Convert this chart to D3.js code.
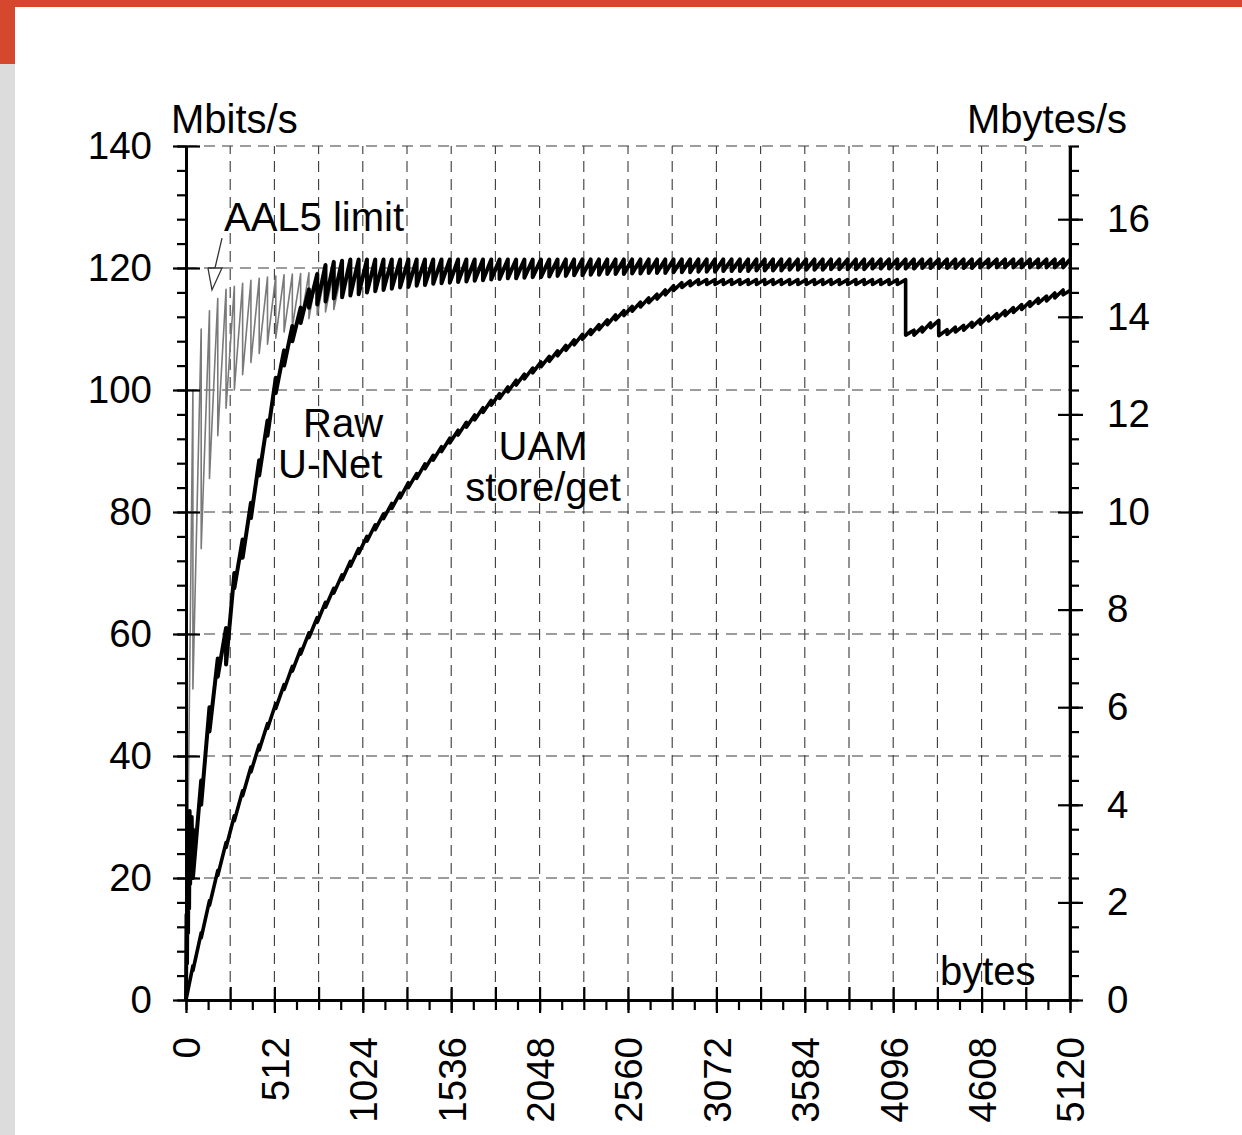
<!DOCTYPE html>
<html>
<head>
<meta charset="utf-8">
<script src="https://cdn.jsdelivr.net/npm/d3@7"></script>
<style>
  html, body { margin: 0; padding: 0; background: #fff; }
  svg { display: block; }
  text { font-family: "Liberation Sans", Arial, Helvetica, sans-serif; fill: #000; }
</style>
</head>
<body>
<svg id="chart" width="1242" height="1135"></svg>
<script>
// ---- message sizes (bytes) at which one more ATM cell is needed ----
const cellEdges = [
  0, 40, 88, 136, 184, 232, 280, 328, 376, 424,
  472, 520, 568, 616, 664, 712, 760, 808, 856, 904,
  952, 1000, 1048, 1096, 1144, 1192, 1240, 1288, 1336, 1384,
  1432, 1480, 1528, 1576, 1624, 1672, 1720, 1768, 1816, 1864,
  1912, 1960, 2008, 2056, 2104, 2152, 2200, 2248, 2296, 2344,
  2392, 2440, 2488, 2536, 2584, 2632, 2680, 2728, 2776, 2824,
  2872, 2920, 2968, 3016, 3064, 3112, 3160, 3208, 3256, 3304,
  3352, 3400, 3448, 3496, 3544, 3592, 3640, 3688, 3736, 3784,
  3832, 3880, 3928, 3976, 4024, 4072, 4120, 4168, 4216, 4264,
  4312, 4360, 4408, 4456, 4504, 4552, 4600, 4648, 4696, 4744,
  4792, 4840, 4888, 4936, 4984, 5032, 5080, 5120
];

// ---- Raw U-Net bandwidth (Mbits/s): first few bytes, then just before / just after each cell edge ----
const rawHeadBytes = [0, 3, 6, 9, 12, 15, 18, 21, 24, 27, 30, 33, 36];
const rawHeadMbps  = [0, 14, 6, 25, 11, 30, 15, 31, 19, 29, 22, 30, 24];
const rawBefore = [
  0, 28, 36, 48, 56, 61, 70, 75.5, 81.5, 88.5,
  95, 102, 106.5, 110.5, 113.5, 116.5, 119, 120.5, 121, 121.2,
  121.4, 121.4, 121.4, 121.4, 121.4, 121.4, 121.4, 121.4, 121.4, 121.4,
  121.4, 121.4, 121.4, 121.4, 121.4, 121.4, 121.4, 121.4, 121.4, 121.4,
  121.4, 121.4, 121.4, 121.4, 121.4, 121.4, 121.4, 121.4, 121.4, 121.4,
  121.4, 121.4, 121.4, 121.4, 121.4, 121.4, 121.4, 121.4, 121.4, 121.4,
  121.4, 121.4, 121.4, 121.4, 121.4, 121.4, 121.4, 121.4, 121.4, 121.4,
  121.4, 121.4, 121.4, 121.4, 121.4, 121.4, 121.4, 121.4, 121.4, 121.4,
  121.4, 121.4, 121.4, 121.4, 121.4, 121.4, 121.4, 121.4, 121.4, 121.4,
  121.4, 121.4, 121.4, 121.4, 121.4, 121.4, 121.4, 121.4, 121.4, 121.4,
  121.4, 121.4, 121.4, 121.4, 121.4, 121.4, 121.4, 121.4
];
const rawAfter = [
  0, 20, 32, 44, 53, 55, 67.5, 72.5, 79, 86,
  92.5, 99.5, 104, 108, 111, 113.5, 114, 114.5, 115, 115.2,
  115.5, 115.7, 116.0, 116.2, 116.4, 116.6, 116.8, 116.9, 117.1, 117.2,
  117.4, 117.5, 117.6, 117.7, 117.8, 117.9, 118.0, 118.1, 118.2, 118.3,
  118.3, 118.4, 118.5, 118.5, 118.6, 118.7, 118.7, 118.8, 118.8, 118.9,
  118.9, 119.0, 119.0, 119.0, 119.1, 119.1, 119.2, 119.2, 119.2, 119.3,
  119.3, 119.3, 119.4, 119.4, 119.4, 119.5, 119.5, 119.5, 119.5, 119.6,
  119.6, 119.6, 119.6, 119.7, 119.7, 119.7, 119.7, 119.7, 119.8, 119.8,
  119.8, 119.8, 119.8, 119.9, 119.9, 119.9, 119.9, 119.9, 119.9, 120.0,
  120.0, 120.0, 120.0, 120.0, 120.0, 120.0, 120.1, 120.1, 120.1, 120.1,
  120.1, 120.1, 120.1, 120.1, 120.1, 120.1, 120.1, 121.4
];

// ---- UAM store/get bandwidth (Mbits/s) just before / just after each cell edge ----
const uamBefore = [
  0, 5.6, 11.0, 16.3, 21.2, 25.8, 30.2, 34.3, 38.2, 41.8,
  45.3, 48.6, 51.7, 54.7, 57.5, 60.2, 62.7, 65.2, 67.5, 69.7,
  71.9, 74.0, 76.0, 77.9, 79.7, 81.4, 83.1, 84.8, 86.3, 87.9,
  89.3, 90.7, 92.1, 93.4, 94.7, 95.9, 97.1, 98.3, 99.4, 100.5,
  101.6, 102.6, 103.6, 104.6, 105.5, 106.4, 107.3, 108.2, 109.1, 109.9,
  110.7, 111.5, 112.3, 113.0, 113.7, 114.4, 115.1, 115.7, 116.4, 117.1,
  117.6, 117.9, 118.1, 118.1, 118.1, 118.1, 118.1, 118.1, 118.1, 118.1,
  118.1, 118.1, 118.1, 118.1, 118.1, 118.1, 118.1, 118.1, 118.1, 118.1,
  118.1, 118.1, 118.1, 118.1, 118.1, 118.1, 118.1, 118.1, 109.8, 110.3,
  111.0, 111.4, 109.9, 110.3, 110.6, 111.1, 111.6, 112.1, 112.5, 113.0,
  113.5, 114.0, 114.5, 115.0, 115.4, 115.9, 116.4, 116.3
];
const uamAfter = [
  0, 4.8, 10.2, 15.5, 20.4, 25.0, 29.4, 33.5, 37.4, 41.0,
  44.5, 47.8, 50.9, 53.9, 56.7, 59.4, 61.9, 64.4, 66.7, 68.9,
  71.1, 73.2, 75.2, 77.1, 78.9, 80.6, 82.3, 84.0, 85.5, 87.1,
  88.5, 89.9, 91.3, 92.6, 93.9, 95.1, 96.3, 97.5, 98.6, 99.7,
  100.8, 101.8, 102.8, 103.8, 104.7, 105.6, 106.5, 107.4, 108.3, 109.1,
  109.9, 110.7, 111.5, 112.2, 112.9, 113.6, 114.3, 114.9, 115.6, 116.3,
  116.8, 117.1, 117.3, 117.3, 117.3, 117.3, 117.3, 117.3, 117.3, 117.3,
  117.3, 117.3, 117.3, 117.3, 117.3, 117.3, 117.3, 117.3, 117.3, 117.3,
  117.3, 117.3, 117.3, 117.3, 117.3, 117.3, 117.3, 109.0, 109.0, 109.5,
  110.2, 108.9, 109.1, 109.5, 109.8, 110.3, 110.8, 111.3, 111.7, 112.2,
  112.7, 113.2, 113.7, 114.2, 114.6, 115.1, 115.6, 116.3
];

// ---- AAL5 limit (Mbits/s) for the small sizes where it is visible ----
const aal5Before = [0, 100, 110, 113, 115, 116.5, 117, 117.5, 118, 118.3,
  118.5, 118.7, 118.9, 119, 119.1, 119.2, 119.3, 119.4, 119.4, 119.5];
const aal5After = [0, 51, 74, 85.5, 92.5, 97, 100, 102.5, 104.5, 106,
  107.5, 108.5, 109.5, 110.3, 111, 111.7, 112.3, 112.8, 113.2, 113.7];

// ---- axis ticks ----
const byteLabels  = [0, 512, 1024, 1536, 2048, 2560, 3072, 3584, 4096, 4608, 5120];
const mbitLabels  = [0, 20, 40, 60, 80, 100, 120, 140];
const mbyteLabels = [0, 2, 4, 6, 8, 10, 12, 14, 16];

// ---- layout ----
const svg = d3.select("#chart");
const x = d3.scaleLinear().domain([0, 5120]).range([186, 1070]);
const y = d3.scaleLinear().domain([0, 140]).range([1000, 146]);
const yR = d3.scaleLinear().domain([0, 17.5]).range([1000, 146]);

// paper and scanner edge
svg.append("rect").attr("width", 1242).attr("height", 1135).attr("fill", "#fff");
svg.append("rect").attr("x", 0).attr("y", 0).attr("width", 1242).attr("height", 7).attr("fill", "#d5482e");
svg.append("rect").attr("x", 0).attr("y", 7).attr("width", 15).attr("height", 57).attr("fill", "#d5482e");
svg.append("rect").attr("x", 0).attr("y", 64).attr("width", 15).attr("height", 1071).attr("fill", "#dcdcdc");

// dashed grid
const grid = svg.append("g")
  .attr("fill", "none").attr("stroke", "#3a3a3a")
  .attr("stroke-width", 1.1).attr("stroke-dasharray", "11,7");
grid.selectAll("line.v").data(d3.range(256, 5120, 256)).join("line").attr("class", "v")
  .attr("x1", d => x(d)).attr("x2", d => x(d)).attr("y1", y(0)).attr("y2", y(140));
grid.selectAll("line.h").data([20, 40, 60, 80, 100, 120, 140]).join("line").attr("class", "h")
  .attr("x1", x(0)).attr("x2", x(5120)).attr("y1", d => y(d)).attr("y2", d => y(d));

// build the saw-tooth polyline from the arrays
function sawtooth(head, before, after, first, last, endOnBefore) {
  const pts = head.slice();
  for (let i = first; i <= last; i++) {
    pts.push([cellEdges[i], before[i]]);
    if (!(endOnBefore && i === last)) pts.push([cellEdges[i], after[i]]);
  }
  return pts;
}
const line = d3.line().x(d => x(d[0])).y(d => y(d[1]));

const aal5Pts = sawtooth([[0, 0]], aal5Before, aal5After, 1, aal5Before.length - 1, true);
const rawHead = rawHeadBytes.map((b, i) => [b, rawHeadMbps[i]]);
const rawPts = sawtooth(rawHead, rawBefore, rawAfter, 1, cellEdges.length - 1, true);
const uamPts = sawtooth([[0, 0]], uamBefore, uamAfter, 1, cellEdges.length - 1, true);

svg.append("path").attr("d", line(aal5Pts)).attr("fill", "none")
  .attr("stroke", "#7a7a7a").attr("stroke-width", 1.6).attr("stroke-linejoin", "round");
svg.append("path").attr("d", line(uamPts)).attr("fill", "none")
  .attr("stroke", "#000").attr("stroke-width", 3.6).attr("stroke-linejoin", "round");
svg.append("path").attr("d", line(rawPts)).attr("fill", "none")
  .attr("stroke", "#000").attr("stroke-width", 4).attr("stroke-linejoin", "round");

// axes
function styleAxis(g, fontSize) {
  g.attr("font-family", null).attr("font-size", null);
  g.selectAll(".domain").attr("stroke", "#000").attr("stroke-width", 2.6);
  g.selectAll(".tick line").attr("stroke", "#000").attr("stroke-width", 2.2);
  g.selectAll(".tick text").style("font-size", fontSize + "px").attr("fill", "#000");
}
const tickFont = 38.5;

// left: Mbits/s
const left = svg.append("g").attr("transform", `translate(${x(0)},0)`);
left.append("g").call(d3.axisLeft(y).tickValues(d3.range(0, 141, 4)).tickSize(9).tickSizeOuter(0).tickFormat("")).call(styleAxis, tickFont);
left.append("g").call(d3.axisLeft(y).tickValues(mbitLabels).tickSize(-14).tickSizeOuter(0).tickFormat("")).call(styleAxis, tickFont);
left.append("g").call(d3.axisLeft(y).tickValues(mbitLabels).tickSize(13).tickSizeOuter(0).tickPadding(21)).call(styleAxis, tickFont);

// right: Mbytes/s
const right = svg.append("g").attr("transform", `translate(${x(5120)},0)`);
right.append("g").call(d3.axisRight(yR).tickValues(d3.range(0, 17.6, 0.5)).tickSize(9).tickSizeOuter(0).tickFormat("")).call(styleAxis, tickFont);
right.append("g").call(d3.axisRight(yR).tickValues(mbyteLabels).tickSize(-12).tickSizeOuter(0).tickFormat("")).call(styleAxis, tickFont);
right.append("g").call(d3.axisRight(yR).tickValues(mbyteLabels).tickSize(13).tickSizeOuter(0).tickPadding(24)).call(styleAxis, tickFont);

// bottom: bytes
const bottom = svg.append("g").attr("transform", `translate(0,${y(0)})`);
bottom.append("g").call(d3.axisBottom(x).tickValues(d3.range(0, 5121, 128)).tickSize(10).tickSizeOuter(0).tickFormat("")).call(styleAxis, tickFont);
bottom.append("g").call(d3.axisBottom(x).tickValues(d3.range(0, 5121, 256)).tickSize(-13).tickSizeOuter(0).tickFormat("")).call(styleAxis, tickFont);
const bLab = bottom.append("g")
  .call(d3.axisBottom(x).tickValues(byteLabels).tickSize(13).tickSizeOuter(0).tickFormat(d3.format("d")))
  .call(styleAxis, tickFont);
bLab.selectAll(".tick text")
  .attr("transform", "rotate(-90)")
  .attr("x", -37).attr("y", 0).attr("dy", "0.36em")
  .attr("text-anchor", "end");

// right side is a solid axis line
svg.append("line").attr("x1", x(5120)).attr("x2", x(5120)).attr("y1", y(0)).attr("y2", y(140))
  .attr("stroke", "#000").attr("stroke-width", 2.6);

// titles and annotations
const big = 40;
svg.append("text").attr("x", x(0) - 15).attr("y", y(140) - 13).style("font-size", big + "px").text("Mbits/s");
svg.append("text").attr("x", x(5120) + 57).attr("y", y(140) - 13).attr("text-anchor", "end").style("font-size", big + "px").text("Mbytes/s");
svg.append("text").attr("x", x(4367)).attr("y", y(2.5)).style("font-size", big + "px").text("bytes");

svg.append("text").attr("x", x(220)).attr("y", y(126.1)).style("font-size", big + "px").text("AAL5 limit");
svg.append("text").attr("x", x(678)).attr("y", y(92.3)).style("font-size", big + "px").text("Raw");
svg.append("text").attr("x", x(533)).attr("y", y(85.6)).style("font-size", big + "px").text("U-Net");
svg.append("text").attr("x", x(2068)).attr("y", y(88.5)).attr("text-anchor", "middle").style("font-size", big + "px").text("UAM");
svg.append("text").attr("x", x(2068)).attr("y", y(81.8)).attr("text-anchor", "middle").style("font-size", big + "px").text("store/get");

// arrow from the AAL5 label down to the limit curve
const arrow = svg.append("g").attr("fill", "none").attr("stroke", "#333").attr("stroke-width", 1.3);
arrow.append("line").attr("x1", x(208.5)).attr("y1", y(124.9)).attr("x2", x(168)).attr("y2", y(120));
arrow.append("path").attr("d", line([[127, 120], [208.5, 120], [150.6, 116.4], [127, 120]]));
</script>
</body>
</html>
